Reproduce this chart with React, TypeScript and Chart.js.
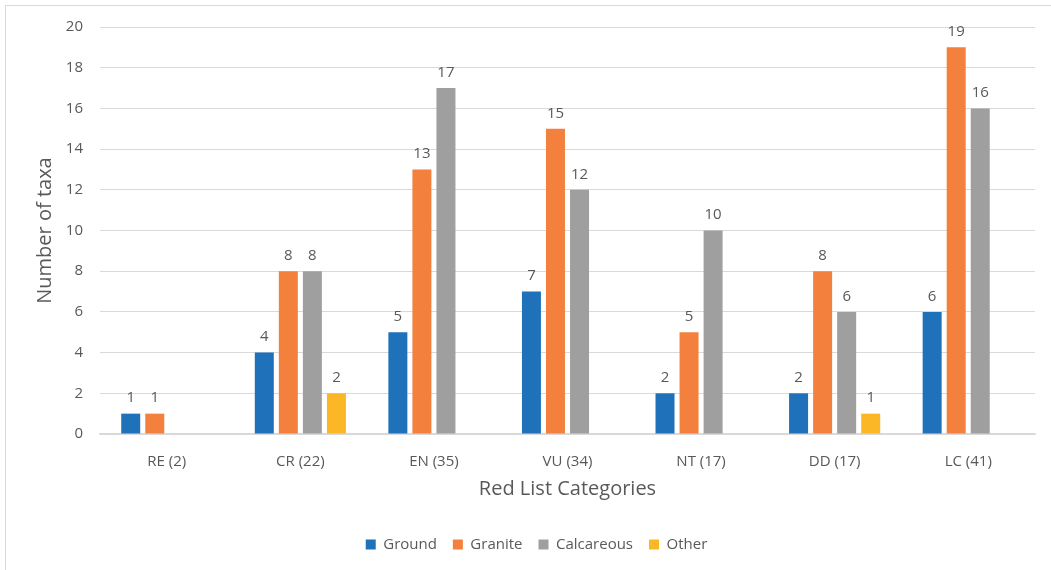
import React, { useEffect, useRef } from "react";
import { Chart, registerables } from "chart.js";

Chart.register(...registerables);

const categories = ["RE (2)", "CR (22)", "EN (35)", "VU (34)", "NT (17)", "DD (17)", "LC (41)"];
const ground = [1, 4, 5, 7, 2, 2, 6];
const granite = [1, 8, 13, 15, 5, 8, 19];
const calcareous = [null, 8, 17, 12, 10, 6, 16];
const other = [null, 2, null, null, null, 1, null];
const seriesNames = ["Ground", "Granite", "Calcareous", "Other"];
const seriesColors = ["#1f71ba", "#f4803d", "#9f9f9f", "#fbb726"];
const yTicks = [0, 2, 4, 6, 8, 10, 12, 14, 16, 18, 20];

const FONT = "'Open Sans', 'Noto Sans', sans-serif";
const TEXT = "#595959";

const frame = {
  id: "frame",
  beforeDraw(chart: any) {
    const { ctx, width, height } = chart;
    ctx.save();
    ctx.fillStyle = "#ffffff";
    ctx.fillRect(0, 0, width, height);
    ctx.strokeStyle = "#d9d9d9";
    ctx.lineWidth = 1;
    ctx.beginPath();
    ctx.moveTo(5.5, height);
    ctx.lineTo(5.5, 5.5);
    ctx.lineTo(width, 5.5);
    ctx.stroke();
    ctx.restore();
  },
};

const legendShift = {
  id: "legendShift",
  afterLayout(chart: any) {
    const lg = chart.legend;
    if (lg) {
      lg.left += 19;
      lg.right += 19;
    }
  },
};

const valueLabels = {
  id: "valueLabels",
  afterDatasetsDraw(chart: any) {
    const { ctx } = chart;
    ctx.save();
    ctx.fillStyle = TEXT;
    ctx.font = `15px ${FONT}`;
    ctx.textAlign = "center";
    ctx.textBaseline = "bottom";
    chart.data.datasets.forEach((ds: any, i: number) => {
      const meta = chart.getDatasetMeta(i);
      meta.data.forEach((bar: any, j: number) => {
        const v = ds.data[j];
        if (v === null || v === undefined) return;
        ctx.fillText(String(v), bar.x, bar.y - 8);
      });
    });
    ctx.restore();
  },
};

export default function App() {
  const ref = useRef<HTMLCanvasElement>(null);
  useEffect(() => {
    document.body.style.margin = "0";
    const data = [ground, granite, calcareous, other];
    const chart = new Chart(ref.current as HTMLCanvasElement, {
      type: "bar",
      data: {
        labels: categories,
        datasets: data.map((d, i) => ({
          label: seriesNames[i],
          data: d as any,
          backgroundColor: seriesColors[i],
          borderWidth: 0,
          categoryPercentage: 0.72,
          barPercentage: 0.79,
        })),
      },
      options: {
        animation: false,
        responsive: false,
        maintainAspectRatio: false,
        layout: { padding: { top: 27, right: 16, bottom: 8, left: 0 } },
        plugins: {
          tooltip: { enabled: false },
          legend: {
            position: "bottom",
            labels: {
              boxWidth: 10,
              boxHeight: 10,
              padding: 16,
              color: TEXT,
              font: { family: FONT, size: 15 },
            },
          },
        },
        scales: {
          x: {
            grid: { display: false, drawTicks: false },
            border: { display: true, color: "#d9d9d9", width: 1.5 },
            ticks: { color: TEXT, font: { family: FONT, size: 15 }, padding: 19 },
            title: {
              display: true,
              text: "Red List Categories",
              color: TEXT,
              font: { family: FONT, size: 20 },
              padding: { top: 0, bottom: 20 },
            },
            afterFit(scale: any) {
              scale.height = 87;
            },
          },
          y: {
            min: 0,
            max: 20,
            afterBuildTicks(scale: any) {
              scale.ticks = yTicks.map((v) => ({ value: v }));
            },
            grid: { color: "#d9d9d9", lineWidth: 1, drawTicks: false },
            border: { display: false },
            ticks: { color: TEXT, font: { family: FONT, size: 15 }, padding: 17 },
            title: {
              display: true,
              text: "Number of taxa",
              color: TEXT,
              font: { family: FONT, size: 20 },
              padding: { top: 33, bottom: 0 },
            },
            afterFit(scale: any) {
              scale.width = 100;
            },
          },
        },
      },
      plugins: [frame, legendShift, valueLabels],
    });
    return () => chart.destroy();
  }, []);
  return (
    <div style={{ position: "fixed", left: 0, top: 0, width: 1051, height: 570 }}>
      <canvas ref={ref} width={1051} height={570} style={{ width: 1051, height: 570 }} />
    </div>
  );
}
